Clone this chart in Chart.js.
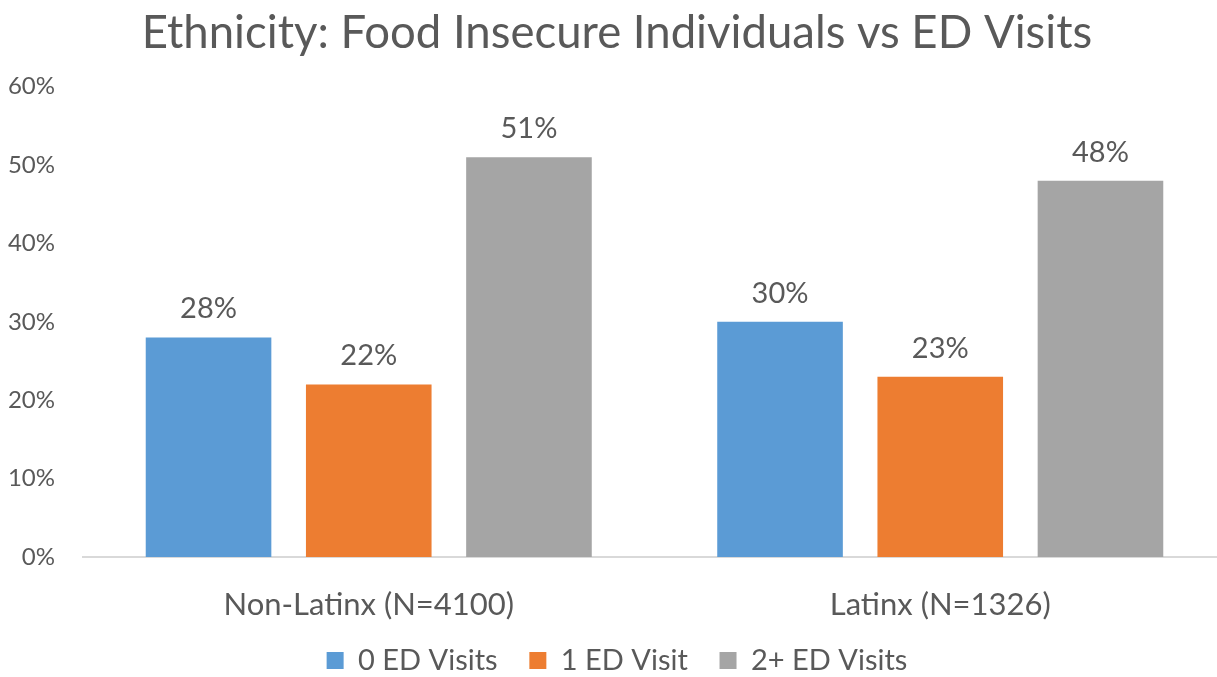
<!DOCTYPE html>
<html>
<head>
<meta charset="utf-8">
<script src="https://cdn.jsdelivr.net/npm/chart.js@4"></script>
<style>
  html, body { margin: 0; padding: 0; background: #fff; overflow: hidden; }
  /* the plot runs slightly past the right edge of the window */
  #wrap { width: 1226px; height: 677px; }
</style>
</head>
<body>
<div id="wrap"><canvas id="chart"></canvas></div>
<script>
const categories = ['Non-Latinx (N=4100)', 'Latinx (N=1326)'];
const seriesNames = ['0 ED Visits', '1 ED Visit', '2+ ED Visits'];
const zeroVisits = [28, 30];
const oneVisit = [22, 23];
const twoPlusVisits = [51, 48];
const yTicks = [0, 10, 20, 30, 40, 50, 60];

const FONT = 'Lato, "Open Sans", sans-serif';
const TEXT = '#595959';

// prints the percentage above each bar
const barLabels = {
  id: 'barLabels',
  afterDatasetsDraw(chart) {
    const ctx = chart.ctx;
    ctx.save();
    ctx.fillStyle = TEXT;
    ctx.font = '29px ' + FONT;
    ctx.textAlign = 'center';
    ctx.textBaseline = 'bottom';
    chart.data.datasets.forEach((ds, i) => {
      chart.getDatasetMeta(i).data.forEach((bar, j) => {
        ctx.fillText(ds.data[j] + '%', bar.x, bar.y - 14);
      });
    });
    ctx.restore();
  }
};

new Chart(document.getElementById('chart'), {
  type: 'bar',
  data: {
    labels: categories,
    datasets: [
      { label: seriesNames[0], data: zeroVisits, backgroundColor: '#5b9bd5' },
      { label: seriesNames[1], data: oneVisit, backgroundColor: '#ed7d31' },
      { label: seriesNames[2], data: twoPlusVisits, backgroundColor: '#a5a5a5' }
    ]
  },
  options: {
    responsive: true,
    maintainAspectRatio: false,
    animation: false,
    categoryPercentage: 0.841,
    barPercentage: 0.784,
    layout: { padding: { left: 8, right: 0, top: 0, bottom: -8 } },
    plugins: {
      title: {
        display: true,
        text: 'Ethnicity: Food Insecure Individuals vs ED Visits',
        color: TEXT,
        font: { family: FONT, size: 45.5, weight: 'normal' },
        padding: { top: 6, bottom: 26 }
      },
      legend: {
        position: 'bottom',
        labels: {
          color: TEXT,
          font: { family: FONT, size: 29 },
          boxWidth: 17,
          boxHeight: 17,
          padding: 2,
          // trailing spaces widen the gap between legend entries
          generateLabels: chart => Chart.defaults.plugins.legend.labels.generateLabels(chart)
            .map((item, i, all) => ({ ...item, text: i < all.length - 1 ? item.text + '    ' : item.text }))
        }
      },
      tooltip: { enabled: false }
    },
    scales: {
      x: {
        grid: { display: false },
        border: { color: '#d9d9d9', width: 2 },
        ticks: { color: TEXT, font: { family: FONT, size: 31, lineHeight: 1 }, padding: 24 }
      },
      y: {
        min: 0,
        max: 60,
        afterBuildTicks: axis => { axis.ticks = yTicks.map(v => ({ value: v })); },
        afterFit: axis => { axis.width = 75; },
        grid: { display: false, drawTicks: false },
        border: { display: false },
        ticks: { color: TEXT, font: { family: FONT, size: 24 }, padding: 28, callback: v => v + '%' }
      }
    }
  },
  plugins: [barLabels]
});
</script>
</body>
</html>
